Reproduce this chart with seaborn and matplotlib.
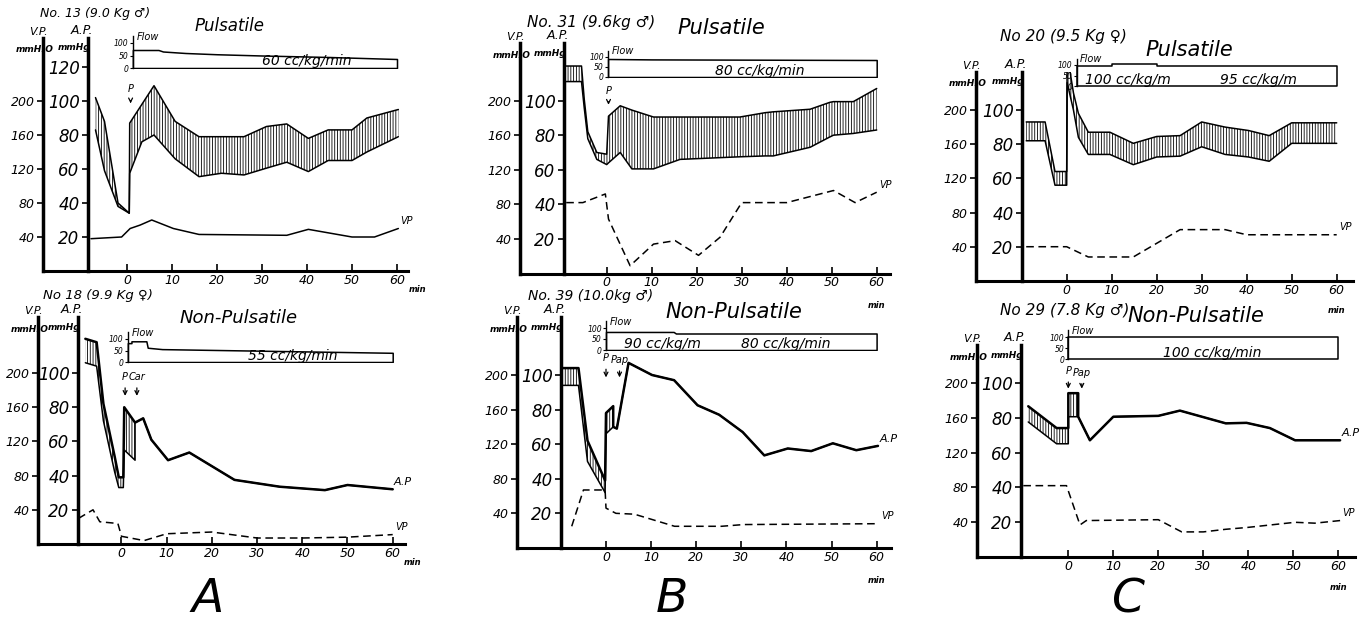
import numpy as np
import matplotlib
matplotlib.use("Agg")
import matplotlib.pyplot as plt
import seaborn as sns

sns.set_theme(style="white")
plt.rcParams["font.family"] = ["DejaVu Sans"]
plt.rcParams["font.style"] = "italic"
plt.rcParams["text.color"] = "black"
plt.rcParams["hatch.linewidth"] = 0.6

W, H = 1360, 643

# ---- data (AP in mmHg, VP in mmH2O, time in min) ----
# A top: No. 13, pulsatile
a1_t = [-7, -5, -2, 0.5, 0.6, 3.3, 6, 10.7, 16, 21, 26, 31, 35.5, 40.3, 44.7, 50, 53.3, 60.3]
a1_sys = [102, 88, 40, 34, 87, 98, 109, 88, 79, 79, 79, 85, 86.5, 78, 83, 83, 90, 95]
a1_dia = [83, 59, 38, 34, 57.5, 76, 80, 66, 55.5, 57.5, 56.5, 60.5, 64, 58.5, 65, 65, 70, 79]
a1_vp_t = [-8, -1.2, 0.7, 2.9, 5.5, 10.3, 16, 35.5, 40.3, 50, 55, 60.3]
a1_vp = [38, 40, 50, 54, 60, 50, 43, 42, 49, 40, 40, 50]
a1_flow_t = [1.3, 7, 8, 13, 20, 30, 45, 60]
a1_flow = [72, 72, 66, 60, 55, 50, 44, 36]

# A bottom: No. 18, non-pulsatile
a2_t = [-8, -5.5, -4, -1.5, -0.6, 0.4, 0.6, 3.0, 3.0, 4.8, 6.6, 10.3, 15, 25, 35, 45, 50, 60]
a2_sys = [120, 118, 82, 51, 39, 39, 80, 71, 71, 73.5, 61, 49, 53.5, 37.5, 33.5, 31.5, 34.5, 32]
a2_dia = [106, 104, 72, 42, 33, 33, 55, 49, 71, 73.5, 61, 49, 53.5, 37.5, 33.5, 31.5, 34.5, 32]
a2_vp_t = [-9.5, -6.3, -4.8, -0.8, 0, 5, 10, 20, 30, 40, 50, 60]
a2_vp = [30, 40, 26, 24, 9, 4, 12, 14, 7, 7, 8, 11]
a2_flow_t = [1.4, 2.2, 2.2, 5.5, 5.8, 9, 60]
a2_flow = [82, 82, 90, 90, 62, 56, 40]

# B top: No. 31, pulsatile
b1_t = [-9, -5.6, -5, -4.2, -2.2, 0, 0.4, 3, 5.6, 7.4, 10.4, 16.3, 29.6, 35.2, 37, 45.2, 49.6, 50.4, 54.8, 60]
b1_sys = [120, 120, 101, 82, 70, 69, 91, 97, 94.5, 93, 90.5, 90.5, 90.5, 93, 93.5, 95, 99, 99.4, 99.4, 107]
b1_dia = [111, 111, 96, 78, 66, 63, 64, 70, 60.5, 60.5, 60.5, 66, 67.5, 68, 68, 73, 79, 80, 81, 83]
b1_vp_t = [-9, -5.3, -0.3, 0.4, 5.2, 10.4, 15.2, 20.4, 25.2, 30, 40, 50.4, 55.2, 60]
b1_vp = [82, 82, 92, 63, 9, 34, 38, 21, 42, 82, 82, 96, 82, 94]
b1_flow_t = [0.3, 10, 60]
b1_flow = [90, 88, 85]

# B bottom: No. 39, non-pulsatile
b2_t = [-9.5, -6.1, -4.1, -0.2, 0, 1.6, 1.6, 2.4, 5, 10.2, 15.1, 20.3, 25.1, 30.3, 35.1, 40.3, 45.5, 50.3, 55.5, 60.3]
b2_sys = [104, 104, 62, 39, 78, 82, 70, 69, 107, 100, 97, 82.5, 77, 67, 53.5, 57.5, 56, 60.5, 56.5, 59]
b2_dia = [94, 94, 50, 32, 66, 70, 70, 69, 107, 100, 97, 82.5, 77, 67, 53.5, 57.5, 56, 60.5, 56.5, 59]
b2_vp_t = [-7.6, -5, -0.2, 0, 2.2, 6.3, 15.2, 25.6, 30.5, 60.5]
b2_vp = [25, 67, 67, 46, 40, 39, 25, 25, 27, 28]
b2_flow_t = [0, 15, 15.5, 60]
b2_flow = [82, 82, 75, 75]

# C top: No. 20, pulsatile
c1_t = [-9, -4.8, -2.6, 0, 0.1, 1.5, 2.6, 4.8, 9.6, 14.8, 20, 25.2, 30, 35.2, 40.4, 45, 50, 60]
c1_sys = [93, 93, 64, 64, 133, 110, 98, 87, 87, 80.5, 84.5, 85, 93, 90, 88, 85, 92.5, 92.5]
c1_dia = [82, 82, 56, 56, 116, 100, 84, 74, 74, 68, 72.5, 73, 78.5, 74, 72.5, 70, 80.5, 80.5]
c1_vp_t = [-9, -1.5, 0, 4.8, 14.8, 25.2, 35.2, 40, 60]
c1_vp = [40, 40, 40, 28, 28, 60, 60, 54, 54]
c1_flow_t = [2.2, 10, 10, 20, 20, 60]
c1_flow = [95, 95, 105, 105, 95, 95]

# C bottom: No. 29, non-pulsatile
c2_t = [-8.9, -2.6, 0, 0, 2.2, 2.2, 4.8, 10, 20, 24.8, 35, 39.6, 44.8, 50.4, 60.4]
c2_sys = [86.5, 74, 74, 94, 94, 80.5, 67, 80.5, 81, 84, 76.7, 77, 74, 67, 67]
c2_dia = [77.5, 65, 65, 80.5, 80.5, 80.5, 67, 80.5, 81, 84, 76.7, 77, 74, 67, 67]
c2_vp_t = [-10, -0.4, 2.6, 4, 20, 25.2, 30, 35, 39.6, 50.4, 54.8, 60.4]
c2_vp = [82, 82, 37, 42, 43, 29, 29, 32, 34, 40, 39, 42]
c2_flow_t = [0, 60]
c2_flow = [100, 100]

titles = ["No. 13 (9.0 Kg ♂)", "No 18 (9.9 Kg ♀)", "No. 31 (9.6kg ♂)",
          "No. 39 (10.0kg ♂)", "No 20 (9.5 Kg ♀)", "No 29 (7.8 Kg ♂)"]
modes = ["Pulsatile", "Non-Pulsatile", "Pulsatile", "Non-Pulsatile", "Pulsatile", "Non-Pulsatile"]
flow_labels = [[("60 cc/kg/min", 30)], [("55 cc/kg/min", 28)], [("80 cc/kg/min", 24)],
               [("90 cc/kg/m", 4), ("80 cc/kg/min", 30)],
               [("100 cc/kg/m", 4), ("95 cc/kg/m", 34)], [("100 cc/kg/min", 21)]]
# event arrows: (label, time, text level, arrow tip level) in AP units
events = [[("P", 0.8, 105, 97)], [("P", 0.8, 96, 85), ("Car", 3.4, 96, 85)],
          [("P", 0.4, 104, 96)], [("P", 0, 108, 97), ("Pap", 3.0, 107, 97)],
          [], [("P", 0, 105, 95), ("Pap", 3.0, 104, 95)]]

# ---- layout (pixel geometry of each hand-drawn panel) ----
geoms = [
    dict(vp_x=43, ap_x=88, x0=127, ppm=4.5, ap0=271, ppa=1.7, right=408, top=38, f0=68, f100=43, ttl=(40, 13), md=(195, 26), fs=(9, 12)),
    dict(vp_x=38, ap_x=78, x0=121.5, ppm=4.52, ap0=544, ppa=1.71, right=405, top=317, f0=362, f100=339, ttl=(43, 295), md=(180, 318), fs=(9.5, 13)),
    dict(vp_x=520, ap_x=564, x0=606.7, ppm=4.5, ap0=273.5, ppa=1.729, right=890, top=43, f0=77, f100=57, ttl=(527, 22), md=(677, 28), fs=(11, 15)),
    dict(vp_x=517, ap_x=561, x0=606, ppm=4.51, ap0=547.9, ppa=1.729, right=891, top=317, f0=350, f100=328, ttl=(528, 296), md=(665, 312), fs=(10, 15)),
    dict(vp_x=976, ap_x=1022, x0=1066.7, ppm=4.5, ap0=280.9, ppa=1.709, right=1353, top=72, f0=86, f100=65, ttl=(1000, 36), md=(1145, 50), fs=(11, 15)),
    dict(vp_x=977, ap_x=1021, x0=1068.3, ppm=4.5, ap0=557.2, ppa=1.745, right=1355, top=345, f0=359, f100=337, ttl=(1000, 310), md=(1127, 316), fs=(11, 15)),
]

panels = [
    (a1_t, a1_sys, a1_dia, a1_vp_t, a1_vp, a1_flow_t, a1_flow),
    (a2_t, a2_sys, a2_dia, a2_vp_t, a2_vp, a2_flow_t, a2_flow),
    (b1_t, b1_sys, b1_dia, b1_vp_t, b1_vp, b1_flow_t, b1_flow),
    (b2_t, b2_sys, b2_dia, b2_vp_t, b2_vp, b2_flow_t, b2_flow),
    (c1_t, c1_sys, c1_dia, c1_vp_t, c1_vp, c1_flow_t, c1_flow),
    (c2_t, c2_sys, c2_dia, c2_vp_t, c2_vp, c2_flow_t, c2_flow),
]


def rect(x, y, w, h):
    # pixel box (top-left origin) -> figure fraction
    return [x / W, 1 - (y + h) / H, w / W, h / H]


def ftext(x, y, s, **kw):
    fig.text(x / W, 1 - y / H, s, **kw)


fig = plt.figure(figsize=(W / 100, H / 100), dpi=100)
fig.patch.set_facecolor("white")

for i, (t, sys_, dia, vp_t, vp, fl_t, fl) in enumerate(panels):
    g = geoms[i]
    pulsatile = modes[i] == "Pulsatile"
    t_lo = (g["vp_x"] - g["x0"]) / g["ppm"]
    t_hi = (g["right"] - g["x0"]) / g["ppm"]
    ap_t = (g["ap_x"] - g["x0"]) / g["ppm"]
    ap_top = (g["ap0"] - g["top"]) / g["ppa"]

    ax = fig.add_axes(rect(g["vp_x"], g["top"], g["right"] - g["vp_x"], g["ap0"] - g["top"]))
    ax.set_xlim(t_lo, t_hi)
    ax.set_ylim(0, ap_top)
    ax.patch.set_alpha(0)
    ax.grid(False)
    for s in ["top", "right"]:
        ax.spines[s].set_visible(False)
    ax.spines["bottom"].set_linewidth(2.2)
    ax.spines["left"].set_linewidth(2.5)
    ax.spines["left"].set_position(("data", ap_t))
    ax.spines["bottom"].set_color("black")
    ax.spines["left"].set_color("black")

    # blood pressure band (hatched) and curves
    ax.fill_between(t, dia, sys_, facecolor="white", edgecolor="black", hatch="||||||", linewidth=0)
    lw = 1.1 if pulsatile else 1.8
    sns.lineplot(x=t, y=sys_, ax=ax, color="black", lw=lw, estimator=None, sort=False)
    sns.lineplot(x=t, y=dia, ax=ax, color="black", lw=1.1, estimator=None, sort=False)
    vp_ap = np.array(vp) / 2.0
    sns.lineplot(x=vp_t, y=vp_ap, ax=ax, color="black", lw=1.1, estimator=None, sort=False,
                 linestyle="-" if i == 0 else (0, (5, 3)))
    ax.text(vp_t[-1] + 0.5, vp_ap[-1] + 2.5, "VP", fontsize=7, ha="left")
    if not pulsatile:
        ax.text(t[-1] + 0.3, sys_[-1] + 2.5, "A.P", fontsize=8, ha="left")

    for lab, et, ytxt, ytip in events[i]:
        ax.annotate(lab, xy=(et, ytip), xytext=(et, ytxt), fontsize=7, ha="center",
                    arrowprops=dict(arrowstyle="->", lw=0.9, color="black"))

    # axes ticks
    ap_ticks = [20, 40, 60, 80, 100] + ([120] if i == 0 else [])
    ax.set_yticks(ap_ticks)
    ax.set_xticks(range(0, 61, 10))
    ax.tick_params(axis="y", left=True, length=4, width=1.2, labelsize=12, pad=2, colors="black")
    ax.tick_params(axis="x", bottom=True, direction="in", length=5, width=1.2, labelsize=9, pad=2, colors="black")
    sec = ax.secondary_yaxis(0, functions=(lambda y: 2 * y, lambda v: v / 2))
    sec.set_yticks([40, 80, 120, 160, 200])
    sec.spines["left"].set_linewidth(2.5)
    sec.spines["left"].set_color("black")
    sec.tick_params(axis="y", left=True, length=4, width=1.2, labelsize=9, pad=2, colors="black")
    if i < 2:
        ax.text(62.5, -0.06 * ap_top, "min", fontsize=6, ha="left", va="top", weight="bold")
    else:
        ax.text(60, -0.12 * ap_top, "min", fontsize=6, ha="center", va="top", weight="bold")

    # axis headers
    ftext(g["vp_x"] - 5, g["top"] - 1, "V.P.", fontsize=8, ha="center", va="bottom")
    ftext(g["vp_x"] - 8, g["top"] + 12, "mmH₂O", fontsize=6.5, ha="center", va="center", weight="bold")
    ftext(g["ap_x"] - 6, g["top"] - 1, "A.P.", fontsize=9, ha="center", va="bottom")
    ftext(g["ap_x"] - 14, g["top"] + 10, "mmHg", fontsize=6.5, ha="center", va="center", weight="bold")

    # titles
    ftext(g["ttl"][0], g["ttl"][1], titles[i], fontsize=g["fs"][0], ha="left", va="center")
    ftext(g["md"][0], g["md"][1], modes[i], fontsize=g["fs"][1], ha="left", va="center")

    # flow strip
    f_top = g["f0"] - 1.3 * (g["f0"] - g["f100"])
    fax = fig.add_axes(rect(g["vp_x"], f_top, g["right"] - g["vp_x"], g["f0"] - f_top))
    fax.set_xlim(t_lo, t_hi)
    fax.set_ylim(0, 130)
    fax.patch.set_alpha(0)
    fax.grid(False)
    for s in ["top", "right", "bottom"]:
        fax.spines[s].set_visible(False)
    fax.spines["left"].set_position(("data", fl_t[0]))
    fax.spines["left"].set_linewidth(1.0)
    fax.spines["left"].set_color("black")
    fax.fill_between(fl_t, 0, fl, facecolor="white", edgecolor="black", linewidth=1.1)
    fax.set_xticks([])
    fax.set_yticks([0, 50, 100])
    fax.tick_params(axis="y", left=True, length=2, width=0.8, labelsize=5.5, pad=1, colors="black")
    fax.text(fl_t[0] + 0.8, 105, "Flow", fontsize=7, ha="left", va="bottom")
    for lab, lx in flow_labels[i]:
        fax.text(lx, 28, lab, fontsize=10, ha="left", va="center")

# column letters
ftext(208, 600, "A", fontsize=34, ha="center", va="center")
ftext(672, 600, "B", fontsize=34, ha="center", va="center")
ftext(1128, 600, "C", fontsize=34, ha="center", va="center")

fig.savefig("out.png", dpi=100)
